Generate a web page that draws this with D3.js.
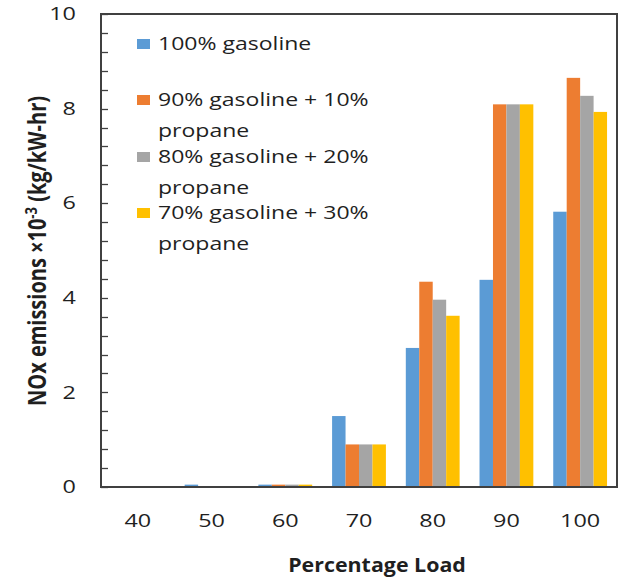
<!DOCTYPE html>
<html>
<head>
<meta charset="utf-8">
<script src="https://cdn.jsdelivr.net/npm/d3@7"></script>
<style>
  html, body { margin: 0; padding: 0; background: #fff; }
  svg text { font-family: "Open Sans", "Liberation Sans", sans-serif; fill: #1f1f1f; }
</style>
</head>
<body>
<svg id="chart" width="622" height="580"></svg>
<script>
// Percentage load categories
const loads = ["40", "50", "60", "70", "80", "90", "100"];

// NOx emissions (x10^-3 kg/kW-hr) for each fuel blend
const gasoline100 = [0, 0.05, 0.05, 1.5, 2.94, 4.38, 5.82];
const propane10   = [0, 0, 0.05, 0.9, 4.34, 8.09, 8.65];
const propane20   = [0, 0, 0.05, 0.9, 3.96, 8.09, 8.27];
const propane30   = [0, 0, 0.05, 0.9, 3.62, 8.09, 7.93];

const seriesNames = [
  ["100% gasoline"],
  ["90% gasoline + 10%", "propane"],
  ["80% gasoline + 20%", "propane"],
  ["70% gasoline + 30%", "propane"]
];
const seriesColors = ["#5B9BD5", "#ED7D31", "#A5A5A5", "#FFC000"];
const yTicks = [0, 2, 4, 6, 8, 10];

const series = [gasoline100, propane10, propane20, propane30].map((vals, i) => ({
  name: seriesNames[i], color: seriesColors[i], values: vals
}));

// Text is drawn slightly widened to mimic the narrow spreadsheet font
const WIDEN = 1.3;

const svg = d3.select("#chart");
const plot = { left: 101, right: 617, top: 14, bottom: 487 };

const x = d3.scaleBand()
  .domain(loads)
  .range([plot.left, plot.right])
  .paddingInner(0.27)
  .paddingOuter(0.135);

const xInner = d3.scaleBand()
  .domain(d3.range(series.length))
  .range([0, x.bandwidth()]);

const y = d3.scaleLinear().domain([0, 10]).range([plot.bottom, plot.top]);

// Bars
const groups = svg.append("g").selectAll("g")
  .data(loads)
  .join("g")
  .attr("transform", d => `translate(${x(d)},0)`);

groups.selectAll("rect")
  .data((d, i) => series.map((s, k) => ({ k, v: s.values[i], color: s.color })))
  .join("rect")
  .attr("x", d => xInner(d.k))
  .attr("width", xInner.bandwidth())
  .attr("y", d => y(d.v))
  .attr("height", d => y(0) - y(d.v))
  .attr("fill", d => d.color);

// Minor / major ticks on the value axis (pointing inward)
const minorTicks = d3.range(0, 10.0001, 0.4);
svg.append("g").selectAll("line")
  .data(minorTicks)
  .join("line")
  .attr("x1", plot.left)
  .attr("x2", plot.left + 7)
  .attr("y1", d => Math.round(y(d)) + 0.5)
  .attr("y2", d => Math.round(y(d)) + 0.5)
  .attr("stroke", "#404040")
  .attr("stroke-width", 1.3);

// Plot frame
svg.append("rect")
  .attr("x", plot.left)
  .attr("y", plot.top)
  .attr("width", plot.right - plot.left)
  .attr("height", plot.bottom - plot.top)
  .attr("fill", "none")
  .attr("stroke", "#404040")
  .attr("stroke-width", 2);

// Value axis labels
const yAxis = d3.axisLeft(y).tickValues(yTicks).tickSize(0).tickFormat(d3.format("d"));
const yg = svg.append("g").attr("transform", `translate(${plot.left},0)`).call(yAxis);
yg.select(".domain").remove();
yg.selectAll("text")
  .attr("x", 0)
  .attr("font-size", 18)
  .attr("font-family", "Open Sans, sans-serif")
  .attr("fill", "#1f1f1f")
  .attr("transform", `translate(-25,0) scale(${WIDEN},1)`);

// Category axis labels
const xAxis = d3.axisBottom(x).tickSize(0).tickPadding(27);
const xg = svg.append("g").attr("transform", `translate(0,${plot.bottom})`).call(xAxis);
xg.select(".domain").remove();
xg.selectAll("text")
  .attr("font-size", 18)
  .attr("font-family", "Open Sans, sans-serif")
  .attr("fill", "#1f1f1f")
  .attr("transform", `scale(${WIDEN},1)`);

// Axis titles
svg.append("text")
  .attr("transform", `translate(377,572) scale(1.07,1)`)
  .attr("text-anchor", "middle")
  .attr("font-size", 20)
  .attr("font-weight", "bold")
  .text("Percentage Load");

const yTitle = svg.append("text")
  .attr("transform", `translate(46,251) rotate(-90) scale(1,1.25)`)
  .attr("text-anchor", "middle")
  .attr("font-size", 20)
  .attr("font-weight", "bold");
yTitle.append("tspan").text("NOx emissions \u00d710");
yTitle.append("tspan").attr("dy", -7).attr("font-size", 13).text("-3");
yTitle.append("tspan").attr("dy", 7).text(" (kg/kW-hr)");

// Legend
const legendRows = [
  { k: 0, y: 44 },
  { k: 1, y: 100 },
  { k: 2, y: 157 },
  { k: 3, y: 213 }
];
const legend = svg.append("g");
legendRows.forEach(r => {
  const s = series[r.k];
  legend.append("rect")
    .attr("x", 137).attr("y", r.y - 5)
    .attr("width", 13).attr("height", 10)
    .attr("fill", s.color);
  s.name.forEach((line, j) => {
    legend.append("text")
      .attr("transform", `translate(158,${r.y + j * 31}) scale(1.28,1)`)
      .attr("dy", "0.35em")
      .attr("font-size", 18)
      .text(line);
  });
});
</script>
</body>
</html>
